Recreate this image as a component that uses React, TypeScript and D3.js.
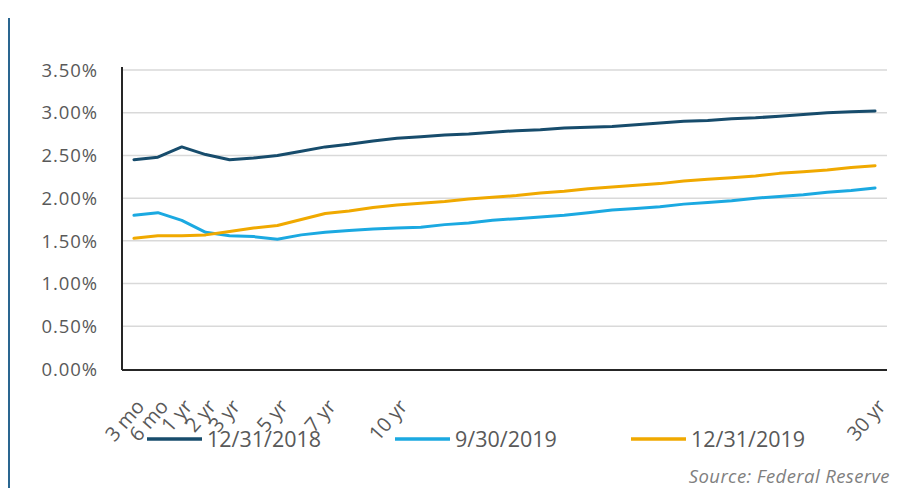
import React from "react";
import * as d3 from "d3";

// maturities: 3 mo, 6 mo, then every year out to 30 yr
const maturities = ["3 mo", "6 mo", ...d3.range(1, 31).map((n) => `${n} yr`)];
const shownLabels = ["3 mo", "6 mo", "1 yr", "2 yr", "3 yr", "5 yr", "7 yr", "10 yr", "30 yr"];
const yTicks = [0, 0.5, 1, 1.5, 2, 2.5, 3, 3.5];

const y2018Dec = [
  2.45, 2.48, 2.6, 2.51, 2.45, 2.47, 2.5, 2.55, 2.6, 2.63, 2.67, 2.7, 2.72, 2.74, 2.75, 2.77,
  2.79, 2.8, 2.82, 2.83, 2.84, 2.86, 2.88, 2.9, 2.91, 2.93, 2.94, 2.96, 2.98, 3.0, 3.01, 3.02,
];
const y2019Sep = [
  1.8, 1.83, 1.74, 1.6, 1.56, 1.55, 1.52, 1.57, 1.6, 1.62, 1.64, 1.65, 1.66, 1.69, 1.71, 1.74,
  1.76, 1.78, 1.8, 1.83, 1.86, 1.88, 1.9, 1.93, 1.95, 1.97, 2.0, 2.02, 2.04, 2.07, 2.09, 2.12,
];
const y2019Dec = [
  1.53, 1.56, 1.56, 1.57, 1.61, 1.65, 1.68, 1.75, 1.82, 1.85, 1.89, 1.92, 1.94, 1.96, 1.99, 2.01,
  2.03, 2.06, 2.08, 2.11, 2.13, 2.15, 2.17, 2.2, 2.22, 2.24, 2.26, 2.29, 2.31, 2.33, 2.36, 2.38,
];

const seriesNames = ["12/31/2018", "9/30/2019", "12/31/2019"];
const seriesColors = ["#174c6c", "#1ba9e1", "#f0a900"];
const seriesValues = [y2018Dec, y2019Sep, y2019Dec];

const font = "'Open Sans', 'Liberation Sans', sans-serif";
const textColor = "#595959";

const App = () => {
  const left = 122;
  const right = 887;
  const top = 70;
  const bottom = 369;

  const x = d3.scalePoint<string>().domain(maturities).range([left, right]).padding(0.5);
  const y = d3.scaleLinear().domain([0, 3.5]).range([bottom, top]);

  const line = d3
    .line<number>()
    .x((_, i) => x(maturities[i]) as number)
    .y((d) => y(d));

  const legendX = [147, 395, 631];

  return (
    <svg width={898} height={488} style={{ position: "absolute", left: 0, top: 0 }}>
      <rect width={898} height={488} fill="#ffffff" />
      {/* frame edge */}
      <line x1={9} x2={9} y1={18} y2={488} stroke="#2a6690" strokeWidth={2} />

      {yTicks.map((t) => (
        <g key={t}>
          {t > 0 && (
            <line x1={left} x2={right} y1={y(t)} y2={y(t)} stroke="#d9d9d9" strokeWidth={1.5} />
          )}
          <text
            x={98}
            y={y(t)}
            dy="0.36em"
            textAnchor="end"
            fontFamily={font}
            fontSize={18.5}
            letterSpacing={0.9}
            fill={textColor}
          >
            {d3.format(".2f")(t)}%
          </text>
        </g>
      ))}

      {seriesValues.map((vals, k) => (
        <path
          key={seriesNames[k]}
          d={line(vals) as string}
          fill="none"
          stroke={seriesColors[k]}
          strokeWidth={3}
          strokeLinejoin="round"
          strokeLinecap="round"
        />
      ))}

      <line x1={left} x2={left} y1={top - 3} y2={bottom + 1} stroke="#262626" strokeWidth={2} />
      <line x1={left} x2={right} y1={bottom + 1} y2={bottom + 1} stroke="#262626" strokeWidth={2} />

      {maturities
        .filter((m) => shownLabels.includes(m))
        .map((m) => (
          <text
            key={m}
            transform={`translate(${(x(m) as number) + 1},${398}) rotate(-49)`}
            textAnchor="end"
            dy="0.7em"
            fontFamily={font}
            fontSize={20}
            fill={textColor}
          >
            {m}
          </text>
        ))}

      {seriesNames.map((name, k) => (
        <g key={name}>
          <line
            x1={legendX[k]}
            x2={legendX[k] + 55}
            y1={439}
            y2={439}
            stroke={seriesColors[k]}
            strokeWidth={3.5}
          />
          <text
            x={legendX[k] + 60}
            y={439}
            dy="0.36em"
            fontFamily={font}
            fontSize={21.5}
            fill={textColor}
          >
            {name}
          </text>
        </g>
      ))}

      <text
        x={890}
        y={483}
        textAnchor="end"
        fontFamily={font}
        fontSize={18.5}
        letterSpacing={0.4}
        fontStyle="italic"
        fill="#7f7f7f"
      >
        Source: Federal Reserve
      </text>
    </svg>
  );
};

export default App;
